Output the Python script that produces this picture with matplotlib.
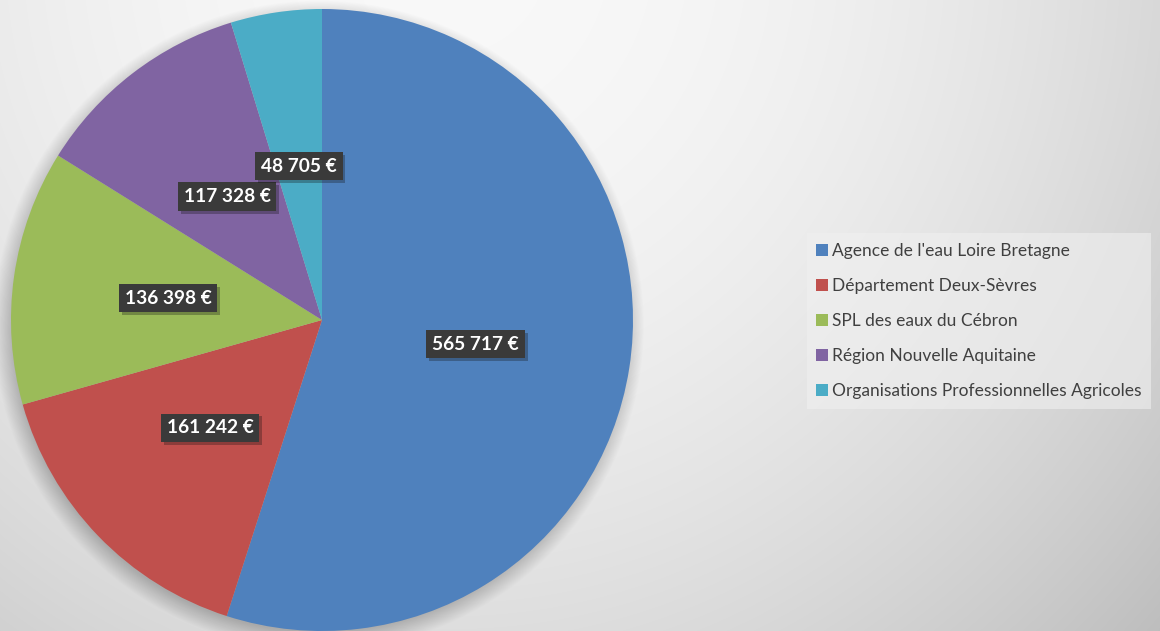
import matplotlib.pyplot as plt
import matplotlib.patheffects as pe
import numpy as np

financeurs = ["Agence de l'eau Loire Bretagne", "Département Deux-Sèvres",
              "SPL des eaux du Cébron", "Région Nouvelle Aquitaine",
              "Organisations Professionnelles Agricoles"]
montants = [565717, 161242, 136398, 117328, 48705]
couleurs = ['#4F81BD', '#C0504D', '#9BBB59', '#8064A2', '#4BACC6']

W, H = 1160, 631
fig = plt.figure(figsize=(W / 100, H / 100), dpi=100)

# fond en degrade gris (radial)
bg = fig.add_axes([0, 0, 1, 1])
yy, xx = np.mgrid[0:H, 0:W]
lum = 0.975 - ((xx - 450) / 2000.0) ** 2 - ((yy + 50) / 2100.0) ** 2
bg.imshow(np.dstack([lum, lum, lum]).clip(0, 1), aspect='auto', extent=(0, W, H, 0))
bg.axis('off')

cx, cy, r = 322, 320, 311
ax = fig.add_axes([(cx - r) / W, (H - cy - r) / H, 2 * r / W, 2 * r / H])
ax.set_facecolor('none')

# ombre douce sous le camembert
for k in range(25):
    ax.add_patch(plt.Circle((-0.01, -0.018), 0.985 + 0.0025 * k, color='black',
                            alpha=0.009, lw=0, clip_on=False, zorder=0))

total = sum(montants)


def fmt(p):
    v = int(round(p * total / 100.0))
    return f"{v:,} €".replace(",", " ")


wedges, texts, autotexts = ax.pie(montants, colors=couleurs, startangle=90,
                                  counterclock=False, autopct=fmt, pctdistance=0.5,
                                  wedgeprops=dict(linewidth=0))
for t in autotexts:
    t.set_color('white')
    t.set_fontfamily('Lato')
    t.set_fontweight('bold')
    t.set_fontsize(13.8)
    t.set_bbox(dict(boxstyle='square,pad=0.3', facecolor='#3a3a3a', edgecolor='none'))
    t.get_bbox_patch().set_path_effects([pe.SimplePatchShadow(offset=(2, -2), alpha=0.3),
                                         pe.Normal()])
ax.set_xlim(-1, 1)
ax.set_ylim(-1, 1)
ax.set_aspect('auto')
ax.axis('off')

leg = fig.legend(wedges, financeurs, loc='center left', bbox_to_anchor=(798 / W, 0.491),
                 frameon=True, fancybox=False, handlelength=0.65, handleheight=0.65,
                 handletextpad=0.25, labelspacing=1.1, borderpad=0.55,
                 prop=dict(family='Lato', size=12.5))
leg.get_frame().set_facecolor('#f0f0f0')
leg.get_frame().set_alpha(0.6)
leg.get_frame().set_edgecolor('none')
for t in leg.get_texts():
    t.set_color('#404040')

fig.savefig('out.png', dpi=100)
